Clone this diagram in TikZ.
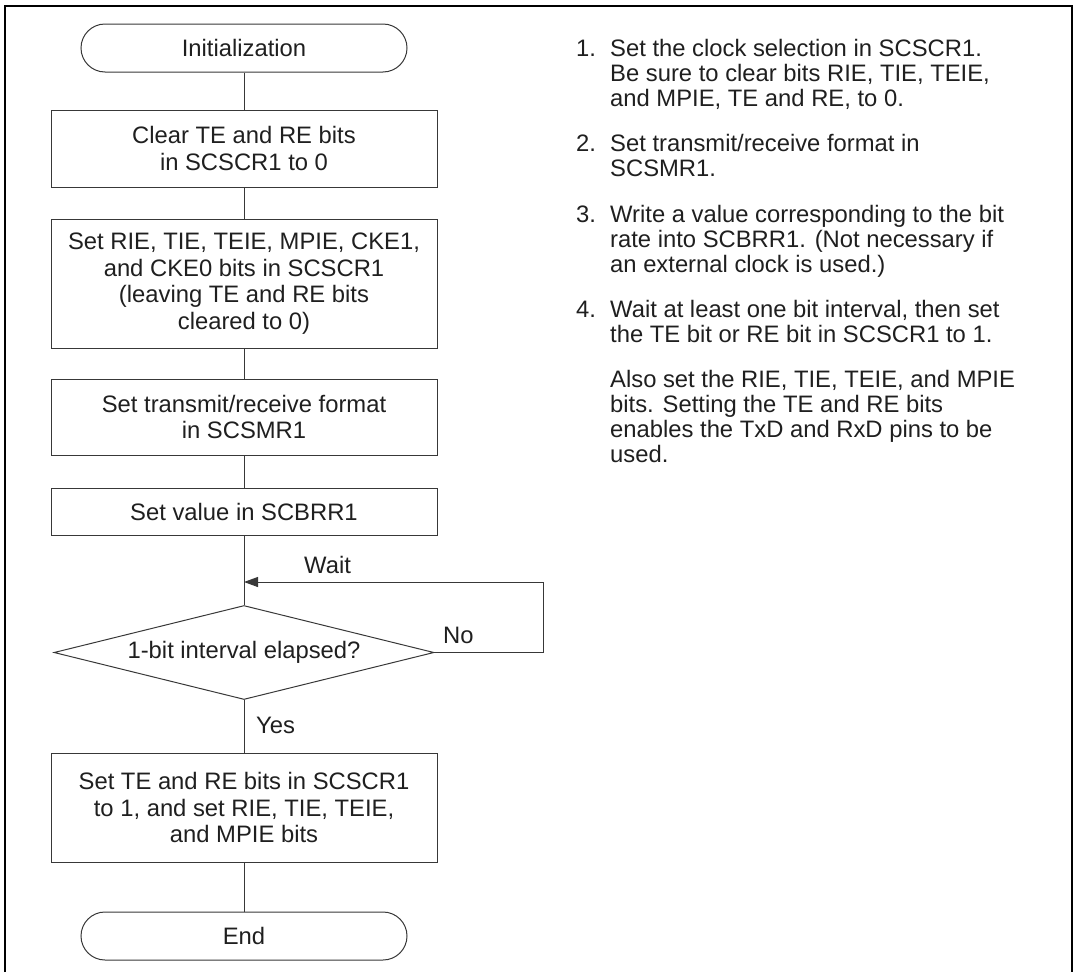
\documentclass[tikz,border=0pt]{standalone}
\usepackage{fontspec}
\setmainfont{Liberation Sans}
\usetikzlibrary{shapes.geometric,arrows.meta}
\newcommand{\boxfont}{\fontsize{23.8}{26.5}\selectfont}
\newcommand{\notefont}{\fontsize{23.8}{25}\selectfont}
\begin{document}
\begin{tikzpicture}[x=1pt,y=-1pt,
  every node/.style={font=\boxfont, text=black!88, inner sep=0pt},
  ln/.style={line width=1.0pt, draw=black!78},
  box/.style={ln, rectangle, minimum width=386pt, align=center},
  term/.style={ln, rectangle, rounded corners=24pt, minimum width=326pt, minimum height=48pt},
  dec/.style={ln, diamond, aspect=4, minimum width=380pt, minimum height=94pt},
  lbl/.style={anchor=base west},
  note/.style={anchor=base west, font=\notefont},
  arr/.style={-{Triangle[length=14pt,width=10pt]}}]
\useasboundingbox (0,0) rectangle (1076,972);
% outer frame
\draw[line width=2.6pt, black] (5,972) -- (5,6) -- (1072,6) -- (1072,972);
% flowchart
\node[term] (init) at (244,48) {Initialization};
\node[box, minimum height=77pt] (b1) at (244,148.5) {Clear TE and RE bits\\in SCSCR1 to 0};
\node[box, minimum height=129pt] (b2) at (244,283.5) {Set RIE, TIE, TEIE, MPIE, CKE1,\\and CKE0 bits in SCSCR1\\(leaving TE and RE bits\\cleared to 0)};
\node[box, minimum height=76pt] (b3) at (244,417) {Set transmit/receive format\\in SCSMR1};
\node[box, minimum height=47pt] (b4) at (244,511.5) {Set value in SCBRR1};
\node[dec] (dec) at (244,652.5) {1-bit interval elapsed?};
\node[box, minimum height=109pt] (b5) at (244,807.5) {Set TE and RE bits in SCSCR1\\to 1, and set RIE, TIE, TEIE,\\and MPIE bits};
\node[term] (end) at (244,936) {End};
\coordinate (merge) at (244,582);
\coordinate (loopR) at (543,652.5);
\draw[ln] (init) -- (b1);
\draw[ln] (b1) -- (b2);
\draw[ln] (b2) -- (b3);
\draw[ln] (b3) -- (b4);
\draw[ln] (b4) -- (dec);
\draw[ln, arr] (dec.east) -- (loopR) |- (merge);
\draw[ln] (dec.south) -- (b5.north);
\draw[ln] (b5) -- (end);
\node[lbl] (wait) at (304,573) {Wait};
\node[lbl] (no) at (443,643) {No};
\node[lbl] (yes) at (256,733) {Yes};
% notes
\node[note] (n1) at (576,56) {1.};
\node[note] (t1) at (610,56) {\parbox[t]{460pt}{\notefont\raggedright Set the clock selection in SCSCR1.\\Be sure to clear bits RIE, TIE, TEIE,\\and MPIE, TE and RE, to 0.}};
\node[note] (n2) at (576,151) {2.};
\node[note] (t2) at (610,151) {\parbox[t]{460pt}{\notefont\raggedright Set transmit/receive format in\\SCSMR1.}};
\node[note] (n3) at (576,222) {3.};
\node[note] (t3) at (610,222) {\parbox[t]{460pt}{\notefont\raggedright Write a value corresponding to the bit\\rate into SCBRR1. (Not necessary if\\an external clock is used.)}};
\node[note] (n4) at (576,317) {4.};
\node[note] (t4) at (610,317) {\parbox[t]{460pt}{\notefont\raggedright Wait at least one bit interval, then set\\the TE bit or RE bit in SCSCR1 to 1.}};
\node[note] (t5) at (610,387) {\parbox[t]{460pt}{\notefont\raggedright Also set the RIE, TIE, TEIE, and MPIE\\bits. Setting the TE and RE bits\\enables the TxD and RxD pins to be\\used.}};
\end{tikzpicture}
\end{document}
